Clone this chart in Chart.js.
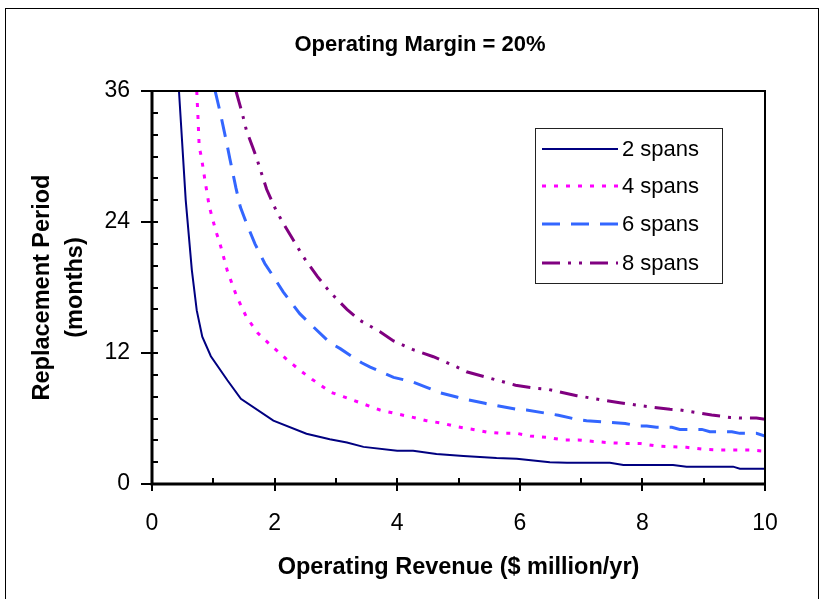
<!DOCTYPE html>
<html>
<head>
<meta charset="utf-8">
<script src="https://cdn.jsdelivr.net/npm/chart.js@4.4.0/dist/chart.umd.min.js"></script>
<style>
html, body { margin: 0; padding: 0; background: #fff; }
</style>
</head>
<body>
<canvas id="myChart" width="823" height="599"></canvas>
<script>
// Operating revenue ($ million/yr) and replacement period (months)
var rev2 = [0.44, 0.55, 0.65, 0.73, 0.82, 0.96, 1.23, 1.45, 1.98, 2.52, 2.9, 3.18, 3.45, 4.0, 4.26, 4.64, 5.08, 5.62, 5.95, 6.49, 6.77, 7.47, 7.69, 8.5, 8.72, 9.48, 9.59, 10];
var months2 = [36, 26, 19.6, 15.9, 13.5, 11.7, 9.5, 7.8, 5.8, 4.6, 4.1, 3.8, 3.4, 3.05, 3.05, 2.75, 2.56, 2.38, 2.32, 2.0, 1.95, 1.95, 1.74, 1.74, 1.59, 1.59, 1.4, 1.4];

var rev4 = [0.73, 0.75, 0.77, 0.81, 0.87, 0.935, 1.04, 1.11, 1.23, 1.38, 1.54, 1.73, 1.9, 2.2, 2.44, 2.61, 2.92, 3.12, 3.45, 3.72, 3.96, 4.26, 4.48, 4.75, 4.97, 5.24, 5.46, 5.73, 5.95, 6.17, 6.45, 6.71, 6.95, 7.2, 7.47, 7.69, 7.96, 8.23, 8.72, 9.0, 9.27, 9.76, 10];
var months4 = [36, 33.6, 30.9, 29.8, 27.6, 25.4, 23.2, 22.0, 19.5, 17.2, 15.3, 13.8, 12.9, 11.4, 10.3, 9.6, 8.4, 8.0, 7.33, 6.78, 6.47, 6.1, 5.8, 5.55, 5.25, 5.0, 4.76, 4.64, 4.64, 4.4, 4.27, 4.03, 4.03, 3.9, 3.78, 3.72, 3.72, 3.48, 3.36, 3.18, 3.11, 3.11, 3.0];

var rev6 = [1.03, 1.11, 1.22, 1.27, 1.37, 1.44, 1.54, 1.68, 1.84, 1.97, 2.14, 2.41, 2.52, 2.9, 3.07, 3.42, 3.56, 3.94, 4.24, 4.48, 4.7, 4.97, 5.11, 5.43, 5.6, 5.95, 6.11, 6.44, 6.63, 6.93, 7.09, 7.72, 7.93, 8.07, 8.23, 8.48, 8.61, 8.97, 9.1, 9.46, 9.59, 9.86, 10];
var months6 = [36, 34.1, 31.2, 29.8, 27.1, 25.4, 23.9, 22.0, 20.2, 19.1, 17.6, 15.6, 15.0, 12.95, 12.4, 11.1, 10.7, 9.77, 9.37, 8.85, 8.36, 7.97, 7.76, 7.39, 7.2, 6.84, 6.78, 6.47, 6.3, 5.92, 5.8, 5.55, 5.31, 5.31, 5.19, 5.19, 5.0, 5.0, 4.79, 4.79, 4.64, 4.64, 4.4];

var rev8 = [1.37, 1.47, 1.54, 1.64, 1.71, 1.87, 2.03, 2.14, 2.31, 2.47, 2.7, 2.9, 3.18, 3.39, 3.72, 3.94, 4.26, 4.59, 4.97, 5.13, 5.46, 5.93, 6.28, 6.46, 6.93, 7.42, 7.63, 7.94, 8.1, 8.45, 8.61, 8.97, 9.13, 9.43, 9.59, 9.86, 10];
var months8 = [36, 34.0, 32.4, 30.9, 29.8, 27.0, 25.0, 23.9, 22.3, 20.8, 19.0, 17.6, 16.0, 15.0, 13.95, 13.1, 12.3, 11.66, 10.72, 10.28, 9.77, 9.05, 8.76, 8.67, 8.09, 7.63, 7.45, 7.2, 7.08, 6.84, 6.78, 6.47, 6.32, 6.1, 6.04, 6.04, 5.92];

var seriesLabels = ['2 spans', '4 spans', '6 spans', '8 spans'];
var xTicks = [0, 2, 4, 6, 8, 10];
var yTicks = [0, 12, 24, 36];

var FONT = '"Liberation Sans", Arial, sans-serif';

function toPoints(xs, ys) {
	var pts = [];
	for (var i = 0; i < xs.length; i++) {
		pts.push({x: xs[i], y: ys[i]});
	}
	return pts;
}

// frame, tick marks, title and the boxed legend inside the plot
var decorations = {
	id: 'decorations',
	beforeDraw: function(chart) {
		var ctx = chart.ctx;
		ctx.save();
		ctx.fillStyle = '#fff';
		ctx.fillRect(0, 0, chart.width, chart.height);
		ctx.strokeStyle = '#000';
		ctx.lineWidth = 1;
		ctx.strokeRect(5.5, 8.5, 813, 640);
		ctx.restore();
	},
	afterDatasetsDraw: function(chart) {
		var ctx = chart.ctx;
		var a = chart.chartArea;
		var xs = chart.scales.x, ys = chart.scales.y;
		ctx.save();
		ctx.strokeStyle = '#000';
		// top and right edges
		ctx.lineWidth = 2;
		ctx.beginPath();
		ctx.moveTo(a.left, a.top);
		ctx.lineTo(a.right, a.top);
		ctx.lineTo(a.right, a.bottom);
		ctx.stroke();
		// axes
		ctx.lineWidth = 3;
		ctx.beginPath();
		ctx.moveTo(a.left, a.top - 1);
		ctx.lineTo(a.left, a.bottom);
		ctx.lineTo(a.right + 1, a.bottom);
		ctx.stroke();
		// y ticks
		ctx.lineWidth = 2;
		ctx.beginPath();
		for (var v = 0; v <= 36; v += 2) {
			var py = Math.round(ys.getPixelForValue(v));
			if (v % 12 === 0) {
				ctx.moveTo(a.left - 11, py);
			} else {
				ctx.moveTo(a.left, py);
			}
			ctx.lineTo(a.left + 6, py);
		}
		// x ticks
		for (var u = 0; u <= 10; u += 1) {
			var px = Math.round(xs.getPixelForValue(u));
			ctx.moveTo(px, a.bottom - 6);
			if (u % 2 === 0) {
				ctx.lineTo(px, a.bottom + 7);
			} else {
				ctx.lineTo(px, a.bottom);
			}
		}
		ctx.stroke();
		ctx.restore();
	},
	afterDraw: function(chart) {
		var ctx = chart.ctx;
		ctx.save();
		// title
		ctx.fillStyle = '#000';
		ctx.font = 'bold 22px ' + FONT;
		ctx.textAlign = 'center';
		ctx.textBaseline = 'middle';
		ctx.fillText('Operating Margin = 20%', 420, 45);
		// legend box
		ctx.fillStyle = '#fff';
		ctx.fillRect(535, 128, 187, 155);
		ctx.strokeStyle = '#222';
		ctx.lineWidth = 1;
		ctx.strokeRect(535.5, 128.5, 187, 155);
		var rowY = [149, 186, 224, 263];
		chart.data.datasets.forEach(function(ds, i) {
			ctx.save();
			ctx.strokeStyle = ds.borderColor;
			ctx.lineWidth = ds.borderWidth;
			ctx.setLineDash(ds.borderDash || []);
			ctx.beginPath();
			ctx.moveTo(542, rowY[i]);
			ctx.lineTo(618, rowY[i]);
			ctx.stroke();
			ctx.restore();
			ctx.fillStyle = '#000';
			ctx.font = '22px ' + FONT;
			ctx.textAlign = 'left';
			ctx.textBaseline = 'middle';
			ctx.fillText(ds.label, 622, rowY[i] + 1);
		});
		ctx.restore();
	}
};

var ctx = document.getElementById('myChart').getContext('2d');
var myChart = new Chart(ctx, {
	type: 'line',
	data: {
		datasets: [{
			label: seriesLabels[0],
			data: toPoints(rev2, months2),
			borderColor: '#000080',
			borderWidth: 2
		}, {
			label: seriesLabels[1],
			data: toPoints(rev4, months4),
			borderColor: '#FF00FF',
			borderWidth: 3,
			borderDash: [4, 8]
		}, {
			label: seriesLabels[2],
			data: toPoints(rev6, months6),
			borderColor: '#3366FF',
			borderWidth: 3,
			borderDash: [18, 11]
		}, {
			label: seriesLabels[3],
			data: toPoints(rev8, months8),
			borderColor: '#800080',
			borderWidth: 3,
			borderDash: [18, 8, 3, 8, 3, 8]
		}]
	},
	options: {
		responsive: false,
		devicePixelRatio: 1,
		animation: false,
		layout: {padding: {top: 91, right: 58, left: 0, bottom: 0}},
		elements: {
			point: {radius: 0, hoverRadius: 0},
			line: {tension: 0, fill: false, borderCapStyle: 'butt'}
		},
		plugins: {
			legend: {display: false},
			title: {display: false},
			tooltip: {enabled: false}
		},
		scales: {
			x: {
				type: 'linear',
				min: 0,
				max: 10,
				grid: {display: false, drawTicks: false},
				border: {display: false},
				afterBuildTicks: function(scale) {
					scale.ticks = xTicks.map(function(v) { return {value: v}; });
				},
				afterFit: function(scale) { scale.height = 115; },
				ticks: {
					color: '#000',
					padding: 26,
					maxRotation: 0,
					font: {family: FONT, size: 23}
				},
				title: {
					display: true,
					text: 'Operating Revenue ($ million/yr)',
					color: '#000',
					font: {family: FONT, size: 23.5, weight: 'bold'},
					padding: {top: 0, bottom: 17}
				}
			},
			y: {
				min: 0,
				max: 36,
				grid: {display: false, drawTicks: false},
				border: {display: false},
				afterBuildTicks: function(scale) {
					scale.ticks = yTicks.map(function(v) { return {value: v}; });
				},
				afterFit: function(scale) { scale.width = 152; },
				ticks: {
					color: '#000',
					padding: 22,
					font: {family: FONT, size: 23}
				},
				title: {
					display: true,
					text: ['Replacement Period', '(months)'],
					color: '#000',
					font: {family: FONT, size: 23.5, weight: 'bold', lineHeight: 1.4},
					padding: {top: 26, bottom: 0}
				}
			}
		}
	},
	plugins: [decorations]
});
</script>
</body>
</html>
